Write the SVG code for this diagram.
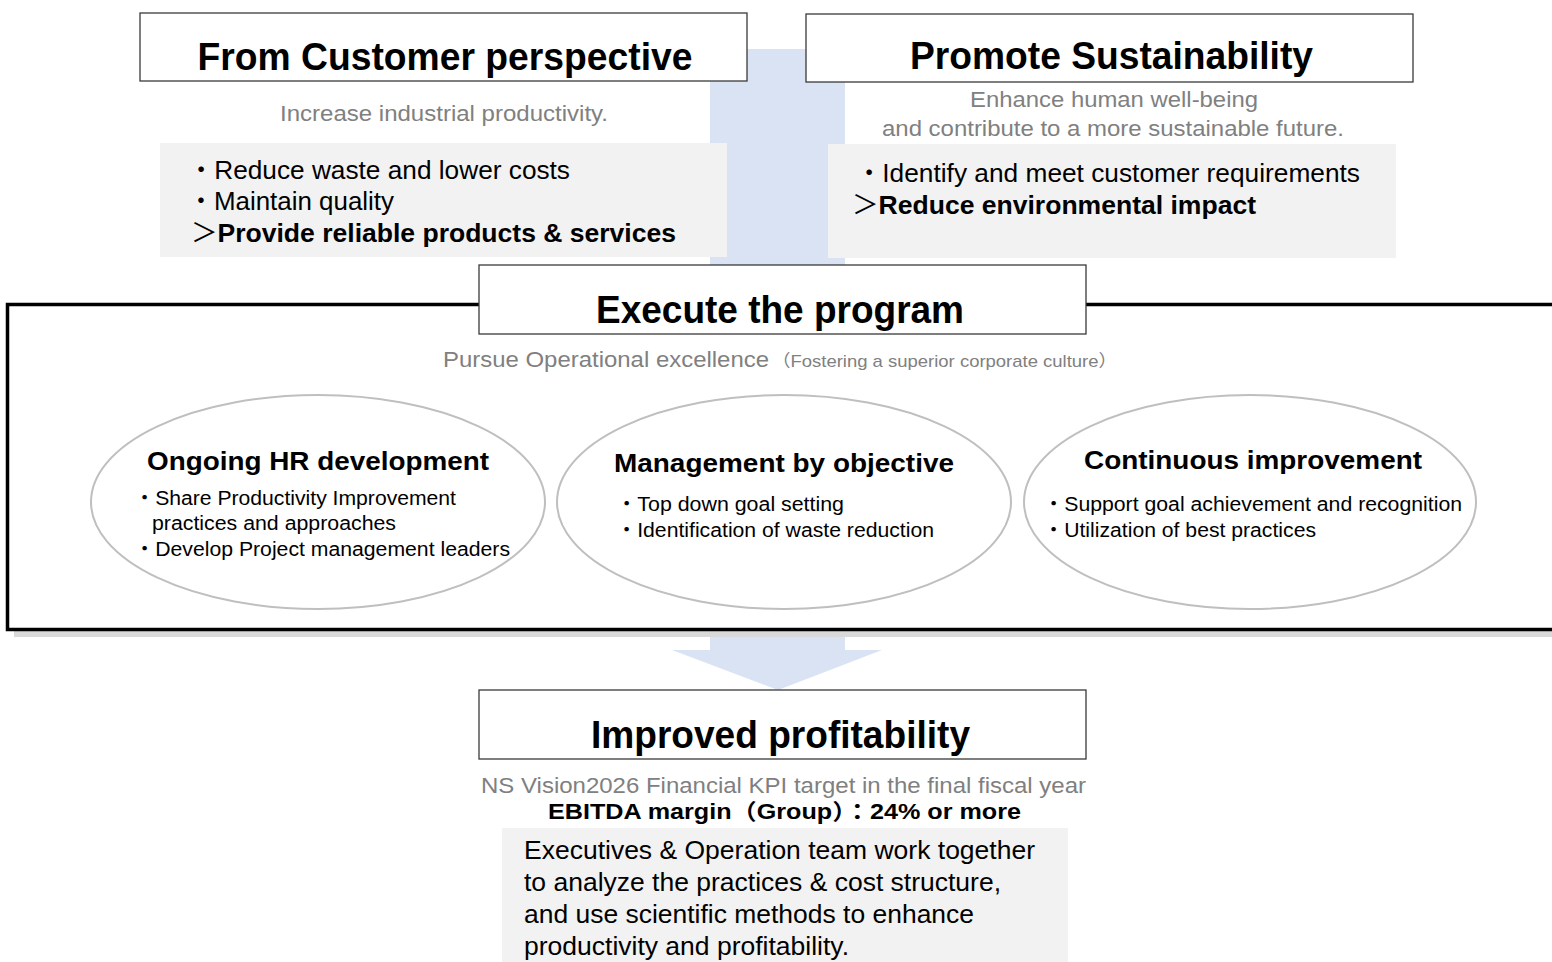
<svg xmlns="http://www.w3.org/2000/svg" width="1552" height="962" viewBox="0 0 1552 962">
  <style>
    text { font-family: "Liberation Sans", "Noto Sans CJK JP", Arial, sans-serif; fill: #000; }
    .title { font-size: 38px; font-weight: bold; text-anchor: middle; }
    .sub { font-size: 22px; fill: #808080; }
    .item { font-size: 26px; }
    .bold { font-weight: bold; }
    .mark { font-weight: normal; }
    .ehead { font-size: 26px; font-weight: bold; }
    .eitem { font-size: 20px; }
    .hbox { fill: #fff; stroke: #3a3a3a; stroke-width: 1.3; }
    .panel { fill: #F2F2F2; }
    .flow { fill: #DAE3F3; }
    .oval { fill: #fff; stroke: #BFBFBF; stroke-width: 2; }
  </style>

  <rect width="1552" height="962" fill="#fff"/>

  <!-- flow arrows -->
  <g id="connectors">
    <rect class="flow" x="710" y="49" width="135" height="216"/>
    <polygon class="flow" points="710,630 845,630 845,650 882,650 778,690 672,650 710,650"/>
  </g>

  <!-- customer perspective -->
  <g id="customer">
    <rect class="hbox" x="140" y="13" width="607" height="68"/>
    <text class="title" x="445" y="70" textLength="495" lengthAdjust="spacingAndGlyphs">From Customer perspective</text>
    <text class="sub" x="280" y="121" textLength="328" lengthAdjust="spacingAndGlyphs">Increase industrial productivity.</text>
    <rect class="panel" x="160" y="143" width="567" height="114"/>
    <text class="item" x="188" y="179" textLength="382" lengthAdjust="spacingAndGlyphs">・Reduce waste and lower costs</text>
    <text class="item" x="188" y="210" textLength="206" lengthAdjust="spacingAndGlyphs">・Maintain quality</text>
    <text class="item bold" x="191" y="242" textLength="485" lengthAdjust="spacingAndGlyphs"><tspan class="mark">＞</tspan>Provide reliable products &amp; services</text>
  </g>

  <!-- sustainability -->
  <g id="sustainability">
    <rect class="hbox" x="806" y="14" width="607" height="68"/>
    <text class="title" x="1111.5" y="69" textLength="403" lengthAdjust="spacingAndGlyphs">Promote Sustainability</text>
    <text class="sub" x="970" y="107" textLength="288" lengthAdjust="spacingAndGlyphs">Enhance human well-being</text>
    <text class="sub" x="882" y="136" textLength="462" lengthAdjust="spacingAndGlyphs">and contribute to a more sustainable future.</text>
    <rect class="panel" x="828" y="144" width="568" height="114"/>
    <text class="item" x="856" y="182" textLength="504" lengthAdjust="spacingAndGlyphs">・Identify and meet customer requirements</text>
    <text class="item bold" x="852" y="214" textLength="404" lengthAdjust="spacingAndGlyphs"><tspan class="mark">＞</tspan>Reduce environmental impact</text>
  </g>

  <!-- execution frame -->
  <g id="execute">
    <rect x="14" y="311" width="1560" height="326" fill="#D9D9D9"/>
    <rect x="7.5" y="304.5" width="1560" height="325" fill="#fff" stroke="#000" stroke-width="3.5"/>
    <rect class="hbox" x="479" y="265" width="607" height="69"/>
    <text class="title" x="780" y="323" textLength="368" lengthAdjust="spacingAndGlyphs">Execute the program</text>
    <text class="sub" x="443" y="367" textLength="326" lengthAdjust="spacingAndGlyphs">Pursue Operational excellence</text>
    <text class="sub" x="772" y="367" textLength="345" lengthAdjust="spacingAndGlyphs" style="font-size:17px">（Fostering a superior corporate culture）</text>
  </g>

  <g id="hr-development">
    <ellipse class="oval" cx="318" cy="502" rx="227" ry="107"/>
    <text class="ehead" x="147" y="470" textLength="342" lengthAdjust="spacingAndGlyphs">Ongoing HR development</text>
    <text class="eitem" x="134" y="505" textLength="322" lengthAdjust="spacingAndGlyphs">・Share Productivity Improvement</text>
    <text class="eitem" x="152" y="530" textLength="244" lengthAdjust="spacingAndGlyphs">practices and approaches</text>
    <text class="eitem" x="134" y="556" textLength="376" lengthAdjust="spacingAndGlyphs">・Develop Project management leaders</text>
  </g>

  <g id="mbo">
    <ellipse class="oval" cx="784" cy="502" rx="227" ry="107"/>
    <text class="ehead" x="614" y="472" textLength="340" lengthAdjust="spacingAndGlyphs">Management by objective</text>
    <text class="eitem" x="616" y="511" textLength="228" lengthAdjust="spacingAndGlyphs">・Top down goal setting</text>
    <text class="eitem" x="616" y="537" textLength="318" lengthAdjust="spacingAndGlyphs">・Identification of waste reduction</text>
  </g>

  <g id="continuous-improvement">
    <ellipse class="oval" cx="1250" cy="502" rx="226" ry="107"/>
    <text class="ehead" x="1084" y="469" textLength="338" lengthAdjust="spacingAndGlyphs">Continuous improvement</text>
    <text class="eitem" x="1043" y="511" textLength="419" lengthAdjust="spacingAndGlyphs">・Support goal achievement and recognition</text>
    <text class="eitem" x="1043" y="537" textLength="273" lengthAdjust="spacingAndGlyphs">・Utilization of best practices</text>
  </g>

  <!-- outcome -->
  <g id="profitability">
    <rect class="hbox" x="479" y="690" width="607" height="69"/>
    <text class="title" x="780.5" y="748" textLength="379" lengthAdjust="spacingAndGlyphs">Improved profitability</text>
    <text class="sub" x="481" y="793" textLength="605" lengthAdjust="spacingAndGlyphs">NS Vision2026 Financial KPI target in the final fiscal year</text>
    <text class="bold" x="548" y="819" style="font-size:22px" textLength="473" lengthAdjust="spacingAndGlyphs">EBITDA margin（Group）：24% or more</text>
    <rect class="panel" x="502" y="828" width="566" height="134"/>
    <text class="item" x="524" y="859" textLength="511" lengthAdjust="spacingAndGlyphs">Executives &amp; Operation team work together</text>
    <text class="item" x="524" y="891" textLength="477" lengthAdjust="spacingAndGlyphs">to analyze the practices &amp; cost structure,</text>
    <text class="item" x="524" y="923" textLength="450" lengthAdjust="spacingAndGlyphs">and use scientific methods to enhance</text>
    <text class="item" x="524" y="955" textLength="325" lengthAdjust="spacingAndGlyphs">productivity and profitability.</text>
  </g>
</svg>
